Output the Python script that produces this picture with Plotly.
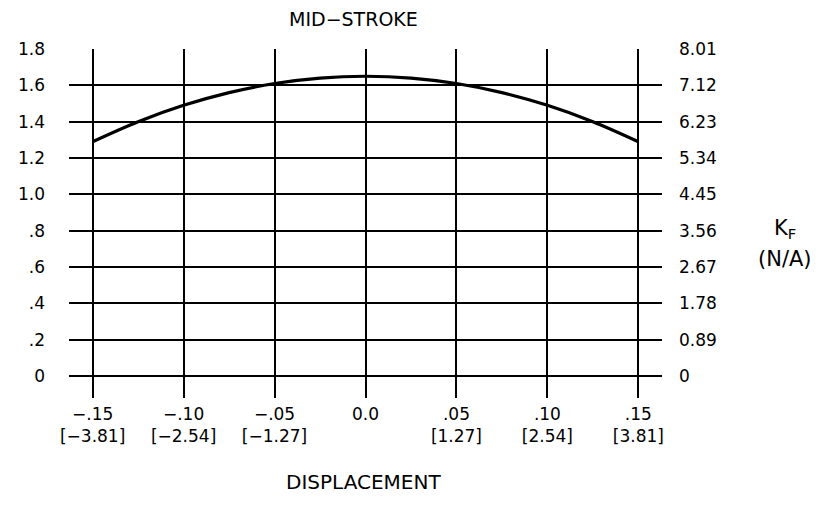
import plotly.graph_objects as go

# Data
disp = [-0.15, -0.125, -0.10, -0.075, -0.05, -0.025, 0.0, 0.025, 0.05, 0.075, 0.10, 0.125, 0.15]
kf = [1.29, 1.40, 1.49, 1.56, 1.61, 1.64, 1.65, 1.64, 1.61, 1.56, 1.49, 1.40, 1.29]

x_tickvals = [-0.15, -0.10, -0.05, 0.0, 0.05, 0.10, 0.15]
x_ticktext = ["−.15<br>[−3.81]", "−.10<br>[−2.54]", "−.05<br>[−1.27]", "0.0",
              ".05<br>[1.27]", ".10<br>[2.54]", ".15<br>[3.81]"]
y_tickvals = [0, 0.2, 0.4, 0.6, 0.8, 1.0, 1.2, 1.4, 1.6, 1.8]
y_ticktext = ["0", ".2", ".4", ".6", ".8", "1.0", "1.2", "1.4", "1.6", "1.8"]
y2_ticktext = ["0", "0.89", "1.78", "2.67", "3.56", "4.45", "5.34", "6.23", "7.12", "8.01"]

FONT = "DejaVu Sans"
OFF = 8  # page body margin
W, H = 834 - 2 * OFF, 508 - 2 * OFF
L, T = 69 - OFF, 49 - OFF
R = W - (662 - OFF)
B = H - (398 - OFF)

fig = go.Figure()
fig.add_trace(go.Scatter(x=disp, y=kf, mode="lines", line=dict(color="black", width=3.2, shape="spline"),
                         showlegend=False, hoverinfo="skip"))
fig.add_trace(go.Scatter(x=[disp[0]], y=[kf[0]], yaxis="y2", mode="markers", marker=dict(opacity=0),
                         showlegend=False, hoverinfo="skip"))

fig.update_layout(
    width=W, height=H,
    margin=dict(l=L, r=R, t=T, b=B, autoexpand=False),
    paper_bgcolor="white", plot_bgcolor="white",
    font=dict(family=FONT, size=17, color="black"),
    xaxis=dict(range=[-0.163, 0.163], tickvals=x_tickvals, ticktext=x_ticktext, automargin=False,
               showgrid=True, gridcolor="black", gridwidth=2, zeroline=False, showline=False,
               ticks="", ticklabelstandoff=4, tickfont=dict(size=17)),
    yaxis=dict(range=[-0.12, 1.8], tickvals=y_tickvals, ticktext=y_ticktext, automargin=False,
               showgrid=True, gridcolor="black", gridwidth=2, zeroline=False, showline=False,
               ticks="", ticklabelstandoff=23, tickfont=dict(size=17)),
    yaxis2=dict(range=[-0.12, 1.8], overlaying="y", side="right", tickvals=y_tickvals, automargin=False,
                ticktext=y2_ticktext, showgrid=False, zeroline=False, showline=False,
                ticks="", ticklabelstandoff=16, tickfont=dict(size=17)),
)
pw = W - L - R
ph = H - T - B
def ann(text, px, py, size):
    px -= OFF; py -= OFF
    fig.add_annotation(text=text, x=(px - L) / pw, y=1 - (py - T) / ph, xref="paper", yref="paper",
                       showarrow=False, xanchor="center", yanchor="middle", borderpad=0,
                       font=dict(size=size))
ann("MID−STROKE", 353, 19, 19)
ann("DISPLACEMENT", 363, 482, 20)
ann("K<sub>F</sub>", 785, 229, 21)
ann("(N/A)", 785, 259, 21)

fig.write_html("out.html")
